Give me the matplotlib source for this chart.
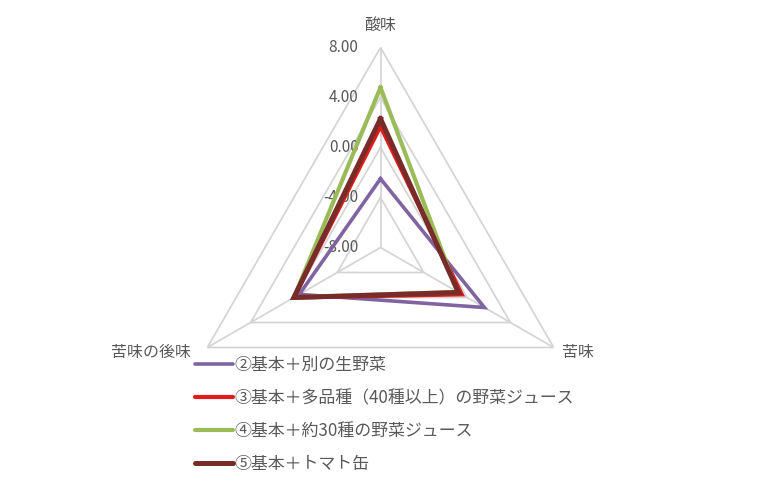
import matplotlib
matplotlib.use("Agg")
import matplotlib.pyplot as plt
import matplotlib.transforms as mtransforms
from matplotlib.lines import Line2D
import numpy as np

plt.rcParams["font.family"] = ["Noto Sans CJK JP", "DejaVu Sans"]

# data
categories = ["酸味", "苦味", "苦味の後味"]
series_names = [
    "②基本＋別の生野菜",
    "③基本＋多品種（40種以上）の野菜ジュース",
    "④基本＋約30種の野菜ジュース",
    "⑤基本＋トマト缶",
]
series_values = [
    [-2.5, 1.6, -0.5],
    [1.7, -0.5, 0.0],
    [4.8, -0.9, 0.0],
    [2.3, -0.8, 0.0],
]
tick_values = [-8.0, -4.0, 0.0, 4.0, 8.0]

colors = ["#8064A2", "#E01B1B", "#9BBB59", "#772C2A"]
widths = [2.6, 3.0, 3.0, 3.6]
grid_color = "#D4D4D4"
text_color = "#595959"

W, H, DPI = 784, 487, 100
fig = plt.figure(figsize=(W / DPI, H / DPI), dpi=DPI)

cx, cy, rad = 380.5, 247.5, 200.0
ax = fig.add_axes(
    [(cx - rad) / W, 1 - (cy + rad) / H, 2 * rad / W, 2 * rad / H],
    projection="polar",
)
ax.set_theta_offset(np.pi / 2)
ax.set_theta_direction(-1)
ax.set_ylim(tick_values[0], tick_values[-1])
ax.set_axis_off()

angles = np.arange(len(categories)) * 2 * np.pi / len(categories)
closed = np.append(angles, angles[0])

# grid triangles and spokes
for v in tick_values[1:]:
    ax.plot(closed, [v] * len(closed), color=grid_color, lw=1.25, zorder=1)
for a in angles:
    ax.plot([a, a], [tick_values[0], tick_values[-1]], color=grid_color,
            lw=1.25, zorder=1)

# value labels on the vertical axis
off = mtransforms.offset_copy(ax.transData, fig=fig, x=-22, y=0, units="dots")
for v in tick_values:
    ax.text(0, v, f"{v:.2f}", transform=off, ha="right", va="center",
            fontsize=11, color=text_color, zorder=2)

# series
for vals, col, lw in zip(series_values, colors, widths):
    vv = np.append(vals, vals[0])
    ax.plot(closed, vv, color=col, lw=lw, solid_joinstyle="miter",
            zorder=3)

# category labels
cat_offsets = [(0, 22, "center"), (8, -5, "left"), (-16, -5, "right")]
for a, name, (dx, dy, ha) in zip(angles, categories, cat_offsets):
    tr = mtransforms.offset_copy(ax.transData, fig=fig, x=dx, y=dy,
                                 units="dots")
    ax.text(a, tick_values[-1], name, transform=tr, ha=ha, va="center",
            fontsize=11.5, color=text_color)

# legend
handles = [
    Line2D([0], [0], color=c, lw=lw, solid_capstyle="round")
    for c, lw in zip(colors, widths)
]
leg = fig.legend(
    handles,
    series_names,
    loc="upper left",
    bbox_to_anchor=(195 / W, 1 - 356 / H),
    frameon=False,
    fontsize=12.2,
    handlelength=2.25,
    handletextpad=0.05,
    labelspacing=0.88,
    borderpad=0,
    borderaxespad=0,
)
for t in leg.get_texts():
    t.set_color(text_color)

fig.savefig("out.png", dpi=DPI)
